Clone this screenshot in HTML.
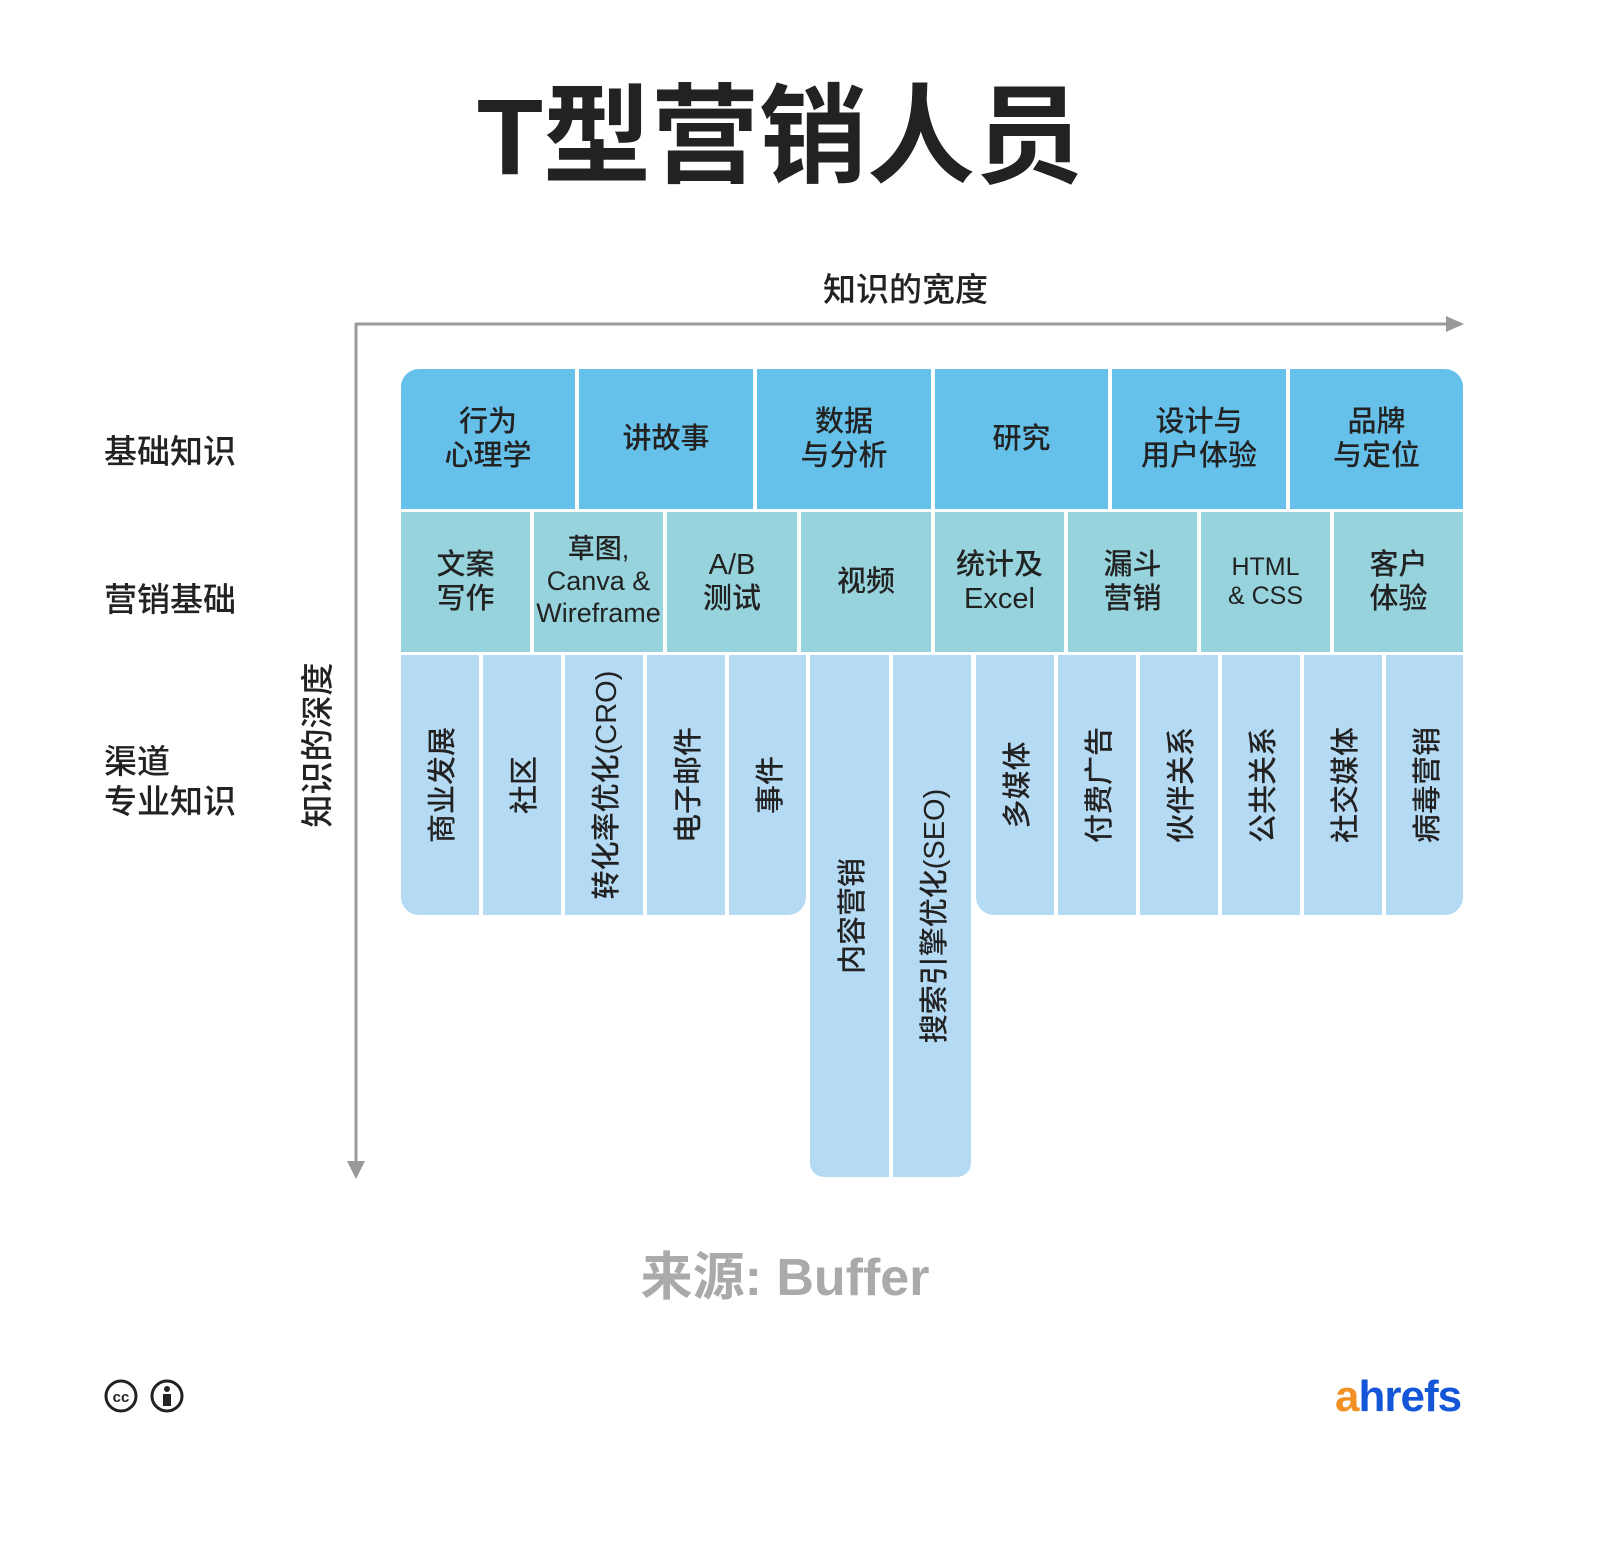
<!DOCTYPE html>
<html><head><meta charset="utf-8"><style>
body{margin:0;background:#fff;}
#c{position:relative;width:1600px;height:1549px;overflow:hidden;font-family:"Liberation Sans","Noto Sans CJK SC",sans-serif;color:#222;font-weight:500;}
.a{position:absolute;}
.cell{position:absolute;display:flex;align-items:center;justify-content:center;text-align:center;line-height:1.18;font-size:29px;}
.t{background:#66c1ea;top:369px;height:140px;}
.m{background:#96d3dc;top:512px;height:140px;}
.b{background:#b5daf3;top:655px;}
.v{position:absolute;left:50%;top:50%;transform:translate(-50%,-50%) rotate(-90deg);white-space:nowrap;font-size:29px;}
.lbl{position:absolute;font-size:33px;line-height:1.2;}
</style></head><body><div id="c">
<div class="a" style="left:0;width:1600px;top:78px;text-align:center;font-size:108px;font-weight:bold;line-height:1.1;"><span style="position:relative;left:-20px">T型营销人员</span></div>
<div class="a" style="left:823px;top:263px;font-size:33px;">知识的宽度</div>
<svg class="a" style="left:0;top:0" width="1600" height="1549">
<line x1="356" y1="324" x2="1450" y2="324" stroke="#999" stroke-width="3"/>
<polygon points="1446,316 1464,324 1446,332" fill="#999"/>
<line x1="356" y1="323" x2="356" y2="1165" stroke="#999" stroke-width="3"/>
<polygon points="347,1161 356,1179 365,1161" fill="#999"/>
</svg>
<div class="lbl" style="left:104px;top:432px;">基础知识</div>
<div class="lbl" style="left:104px;top:580px;">营销基础</div>
<div class="lbl" style="left:104px;top:742px;">渠道<br>专业知识</div>
<div class="a" style="left:315px;top:745px;transform:translate(-50%,-50%) rotate(-90deg);font-size:33px;white-space:nowrap;">知识的深度</div>

<div class="cell t" style="left:401px;width:174px;border-top-left-radius:18px;">行为<br>心理学</div>
<div class="cell t" style="left:579px;width:174px;">讲故事</div>
<div class="cell t" style="left:757px;width:174px;">数据<br>与分析</div>
<div class="cell t" style="left:935px;width:173px;">研究</div>
<div class="cell t" style="left:1112px;width:174px;">设计与<br>用户体验</div>
<div class="cell t" style="left:1290px;width:173px;border-top-right-radius:18px;">品牌<br>与定位</div>

<div class="cell m" style="left:401px;width:129px;">文案<br>写作</div>
<div class="cell m" style="left:534px;width:129px;font-size:27px;">草图,<br>Canva &amp;<br>Wireframe</div>
<div class="cell m" style="left:667px;width:130px;">A/B<br>测试</div>
<div class="cell m" style="left:801px;width:130px;">视频</div>
<div class="cell m" style="left:935px;width:129px;">统计及<br>Excel</div>
<div class="cell m" style="left:1068px;width:129px;">漏斗<br>营销</div>
<div class="cell m" style="left:1201px;width:129px;font-size:25px;">HTML<br>&amp; CSS</div>
<div class="cell m" style="left:1334px;width:129px;">客户<br>体验</div>

<div class="b" style="position:absolute;left:401px;width:78px;height:260px;border-bottom-left-radius:18px;"><span class="v">商业发展</span></div>
<div class="b" style="position:absolute;left:483px;width:78px;height:260px;"><span class="v">社区</span></div>
<div class="b" style="position:absolute;left:565px;width:78px;height:260px;"><span class="v">转化率优化(CRO)</span></div>
<div class="b" style="position:absolute;left:647px;width:78px;height:260px;"><span class="v">电子邮件</span></div>
<div class="b" style="position:absolute;left:729px;width:77px;height:260px;border-bottom-right-radius:18px;"><span class="v">事件</span></div>
<div class="b" style="position:absolute;left:810px;width:79px;height:522px;border-bottom-left-radius:14px;"><span class="v">内容营销</span></div>
<div class="b" style="position:absolute;left:893px;width:78px;height:522px;border-bottom-right-radius:14px;"><span class="v">搜索引擎优化(SEO)</span></div>
<div class="b" style="position:absolute;left:976px;width:78px;height:260px;border-bottom-left-radius:18px;"><span class="v">多媒体</span></div>
<div class="b" style="position:absolute;left:1058px;width:78px;height:260px;"><span class="v">付费广告</span></div>
<div class="b" style="position:absolute;left:1140px;width:78px;height:260px;"><span class="v">伙伴关系</span></div>
<div class="b" style="position:absolute;left:1222px;width:78px;height:260px;"><span class="v">公共关系</span></div>
<div class="b" style="position:absolute;left:1304px;width:78px;height:260px;"><span class="v">社交媒体</span></div>
<div class="b" style="position:absolute;left:1386px;width:77px;height:260px;border-bottom-right-radius:18px;"><span class="v">病毒营销</span></div>

<div class="a" style="left:0;width:1570px;top:1235px;text-align:center;font-size:52px;font-weight:bold;color:#aaa;">来源: Buffer</div>

<svg class="a" style="left:104px;top:1379px" width="82" height="36">
<circle cx="17" cy="17" r="15" fill="none" stroke="#222" stroke-width="3"/>
<text x="17" y="23" font-size="15" font-weight="bold" text-anchor="middle" font-family="Liberation Sans" fill="#222">cc</text>
<circle cx="63" cy="17" r="15" fill="none" stroke="#222" stroke-width="3"/>
<circle cx="63" cy="10" r="3" fill="#222"/>
<rect x="59" y="15" width="8" height="12" fill="#222"/>
</svg>
<div class="a" style="left:1335px;top:1372px;font-size:44px;font-weight:bold;letter-spacing:-1px;"><span style="color:#f29024">a</span><span style="color:#1456d8">hrefs</span></div>
</div></body></html>
